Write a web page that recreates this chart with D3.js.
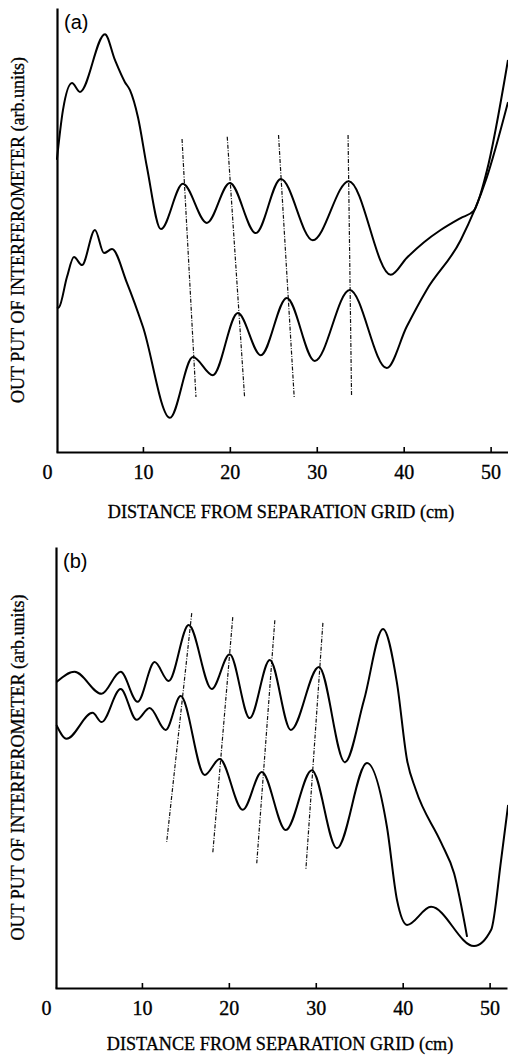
<!DOCTYPE html>
<html>
<head>
<meta charset="utf-8">
<script src="https://cdn.jsdelivr.net/npm/d3@7"></script>
<style>
  body { margin: 0; background: #fff; }
  svg { display: block; }
</style>
</head>
<body>
<svg id="chart" width="508" height="1055"></svg>
<script>
// Shared axis settings
const xTicks = [0, 10, 20, 30, 40, 50];
const xTitle = "DISTANCE FROM SEPARATION GRID (cm)";
const yTitle = "OUT PUT OF INTERFEROMETER (arb.units)";

// Panel (a): interferometer output vs distance, [cm, arb. units]
const aUpper = [
  [0.1, 6.58], [0.8, 7.7], [1.84, 8.31], [2.76, 8.11], [5.63, 9.41], [6.78, 8.83],
  [7.93, 8.33], [8.51, 8.15], [9.43, 7.54], [10.46, 6.42], [12.07, 5.02],
  [14.6, 6.04], [17.36, 5.16], [20.0, 6.06], [22.99, 4.93], [25.86, 6.15],
  [29.54, 4.77], [33.68, 6.10], [38.51, 3.99], [40.34, 4.37], [42.3, 4.72],
  [44.25, 5.0], [46.55, 5.27], [48.05, 5.43], [49.54, 6.31], [52.0, 8.83]
];
const aLower = [
  [0.1, 3.24], [0.35, 3.26], [1.26, 3.94], [2.07, 4.39], [2.99, 4.21], [4.48, 5.0],
  [5.52, 4.48], [6.44, 4.57], [8.16, 3.81], [10.0, 2.82], [13.1, 0.77],
  [15.75, 2.14], [18.05, 1.73], [20.92, 3.13], [23.56, 2.18], [26.55, 3.47],
  [29.77, 2.05], [33.79, 3.65], [38.05, 1.89], [40.34, 2.82], [42.64, 3.65],
  [46.55, 4.77], [49.54, 6.17], [52.0, 7.88]
];
// Dash-dot guides joining matching peaks, [top, bottom]
const aGuides = [
  [[14.5, 7.05], [16.1, 1.24]],
  [[19.7, 7.1], [21.7, 1.22]],
  [[25.6, 7.14], [27.4, 1.24]],
  [[33.6, 7.14], [34.0, 1.28]]
];

// Panel (b)
const bUpper = [
  [0.17, 6.94], [2.25, 7.17], [5.36, 6.67], [7.55, 7.17], [9.5, 6.49], [11.46, 7.39],
  [13.08, 6.96], [15.38, 8.23], [18.03, 6.78], [20.1, 7.57], [22.4, 6.12],
  [24.71, 7.44], [27.13, 5.85], [30.36, 7.28], [33.35, 5.12], [35.55, 6.53],
  [37.73, 8.14], [39.34, 6.92], [40.5, 5.17], [41.5, 4.5], [44.41, 3.3],
  [45.91, 2.6], [47.41, 1.16]
];
const bLower = [
  [0.17, 5.96], [1.32, 5.65], [4.32, 6.24], [5.36, 6.03], [7.55, 6.78], [9.39, 6.08],
  [10.89, 6.35], [12.73, 5.85], [14.46, 6.62], [17.22, 4.83], [18.95, 5.19],
  [21.6, 4.04], [23.79, 4.9], [26.55, 3.58], [29.55, 4.94], [32.43, 3.17],
  [35.89, 5.1], [38.19, 3.65], [39.34, 2.0], [40.5, 1.43], [43.26, 1.84],
  [48.21, 0.95], [50.18, 1.32], [51.32, 2.9], [52.13, 4.15]
];
const bGuides = [
  [[15.73, 8.5], [12.85, 3.31]],
  [[20.45, 8.41], [18.15, 3.06]],
  [[25.29, 8.34], [23.21, 2.83]],
  [[30.82, 8.28], [28.86, 2.68]]
];

const svg = d3.select("#chart");
svg.append("rect").attr("width", 508).attr("height", 1055).attr("fill", "#fff");

const serif = "'Liberation Serif', 'Times New Roman', serif";
const sans = "'Liberation Sans', Arial, sans-serif";

function drawPanel(opt) {
  const x = d3.scaleLinear().domain([0, 52]).range([opt.left, opt.right]);
  const y = d3.scaleLinear().domain([0, 10]).range([opt.bottom, opt.top]);
  const g = svg.append("g");

  const clipId = "clip-" + opt.name;
  g.append("clipPath").attr("id", clipId)
    .append("rect")
    .attr("x", opt.left).attr("y", opt.top - 10)
    .attr("width", 508 - opt.left).attr("height", opt.bottom - opt.top + 10);

  const plot = g.append("g").attr("clip-path", `url(#${clipId})`);

  // dash-dot guides
  plot.selectAll("line.guide").data(opt.guides).enter().append("line")
    .attr("class", "guide")
    .attr("x1", d => x(d[0][0])).attr("y1", d => y(d[0][1]))
    .attr("x2", d => x(d[1][0])).attr("y2", d => y(d[1][1]))
    .attr("stroke", "#111").attr("stroke-width", 1.2)
    .attr("stroke-dasharray", "4,1.5,1,1.5");

  const line = d3.line().x(d => x(d[0])).y(d => y(d[1])).curve(d3.curveMonotoneX);
  plot.selectAll("path.curve").data(opt.curves).enter().append("path")
    .attr("class", "curve")
    .attr("d", line)
    .attr("fill", "none").attr("stroke", "#000").attr("stroke-width", 2)
    .attr("stroke-linejoin", "round");

  // x axis with inward ticks
  const xAxis = d3.axisBottom(x).tickValues(xTicks).tickSizeInner(-5)
    .tickSizeOuter(0).tickPadding(13).tickFormat(d3.format("d"));
  const ax = g.append("g").attr("transform", `translate(0,${opt.bottom})`).call(xAxis);
  ax.select(".domain").attr("stroke-width", 2.2).attr("stroke", "#000");
  ax.selectAll(".tick line").attr("stroke-width", 1.6).attr("stroke", "#000")
    .filter(d => d === 0).remove();
  ax.selectAll(".tick text").attr("font-family", serif).attr("font-size", 20)
    .attr("fill", "#000").attr("stroke", "#000").attr("stroke-width", 0.35);
  ax.selectAll(".tick").filter(d => d === 0).select("text").attr("dx", -9);

  // y axis: plain vertical line
  const yAxis = d3.axisLeft(y).tickValues([]).tickSizeOuter(0);
  const ay = g.append("g").attr("transform", `translate(${opt.left + 1},0)`).call(yAxis);
  ay.select(".domain").attr("stroke-width", 2.2).attr("stroke", "#000");

  // titles
  g.append("text")
    .attr("x", (opt.left + opt.right) / 2 - 1)
    .attr("y", opt.bottom + opt.titleGap)
    .attr("text-anchor", "middle")
    .attr("font-family", serif).attr("font-size", 18.2)
    .attr("stroke", "#000").attr("stroke-width", 0.3)
    .text(xTitle);

  g.append("text")
    .attr("transform", `translate(24,${(opt.top + opt.bottom) / 2}) rotate(-90)`)
    .attr("text-anchor", "middle")
    .attr("font-family", serif).attr("font-size", 18)
    .attr("stroke", "#000").attr("stroke-width", 0.3)
    .text(yTitle);

  g.append("text")
    .attr("x", opt.left + 8).attr("y", opt.top + 21)
    .attr("font-family", sans).attr("font-size", 20)
    .text(opt.label);
}

drawPanel({ name: "a", label: "(a)", top: 8, bottom: 452, left: 56, right: 508,
  titleGap: 66, curves: [aUpper, aLower], guides: aGuides });
drawPanel({ name: "b", label: "(b)", top: 547, bottom: 988, left: 55, right: 507,
  titleGap: 62, curves: [bUpper, bLower], guides: bGuides });
</script>
</body>
</html>
